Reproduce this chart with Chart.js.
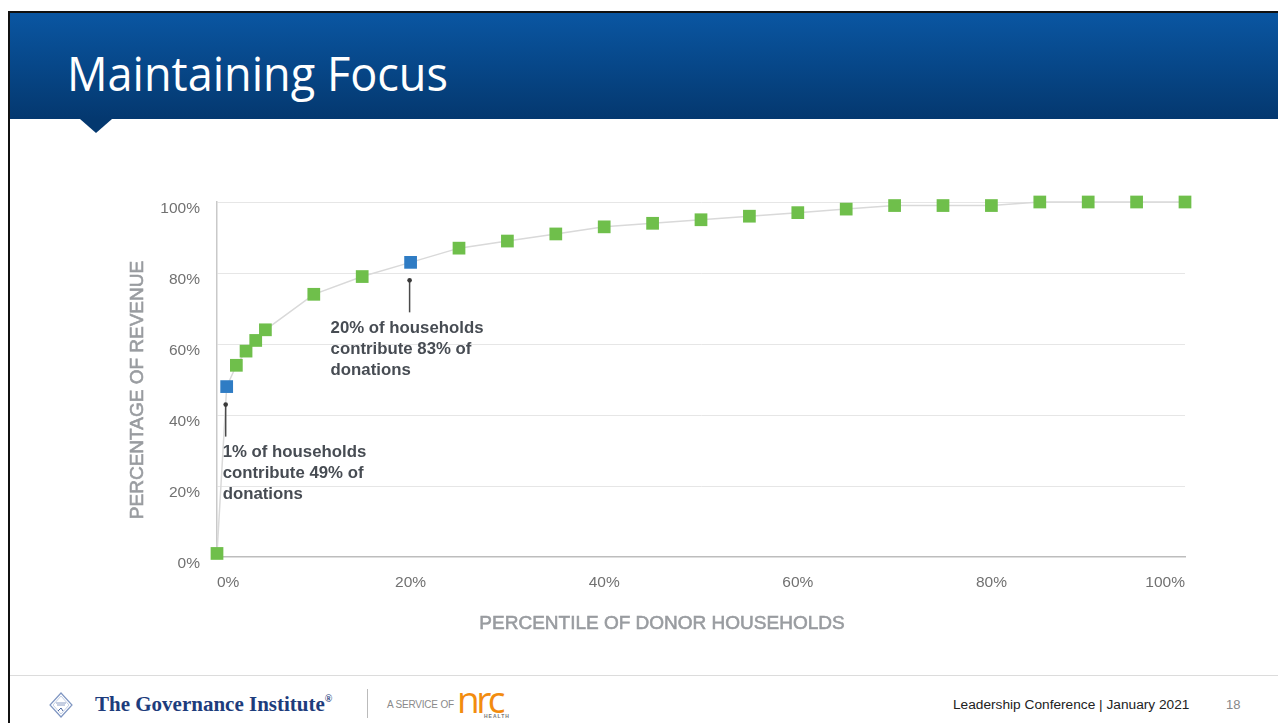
<!DOCTYPE html>
<html><head><meta charset="utf-8">
<script src="https://cdn.jsdelivr.net/npm/chart.js@4.4.0/dist/chart.umd.min.js"></script>
<style>
html,body{margin:0;padding:0;background:#fff;}
body{width:1278px;height:723px;position:relative;overflow:hidden;font-family:'Liberation Sans',Arial,sans-serif;}
#frameTop{position:absolute;left:8px;top:11px;width:1270px;height:2px;background:#111;}
#frameLeft{position:absolute;left:8px;top:11px;width:2px;height:712px;background:#111;}
#header{position:absolute;left:10px;top:13px;width:1268px;height:106px;background:linear-gradient(#0a56a2,#04386f);}
#pointer{position:absolute;left:80px;top:119px;width:0;height:0;border-left:16px solid transparent;border-right:16px solid transparent;border-top:14px solid #04386f;}
#title{position:absolute;left:67px;top:50px;color:#fff;font-family:'Open Sans',sans-serif;font-size:47px;line-height:47px;white-space:nowrap;transform-origin:0 0;}
#chartWrap{position:absolute;left:0;top:140px;width:1278px;height:520px;}
#footLine{position:absolute;left:10px;top:675px;width:1268px;height:1px;background:#dcdcdc;}
#logo{position:absolute;left:49px;top:692px;}
#gov{position:absolute;left:95px;top:692px;font-family:'Liberation Serif','DejaVu Serif',serif;font-weight:bold;font-size:21px;color:#1d3c7c;white-space:nowrap;}
#gov sup{font-size:10px;vertical-align:top;position:relative;top:1px;}
#sep{position:absolute;left:367px;top:689px;width:1px;height:29px;background:#bbb;}
#svc{position:absolute;left:387px;top:699px;font-size:10px;color:#8a8a8a;white-space:nowrap;letter-spacing:-0.2px;}
#nrc{position:absolute;left:457px;top:677px;font-family:'Open Sans',sans-serif;font-weight:400;font-size:37px;color:#f28c0f;letter-spacing:-3.5px;white-space:nowrap;line-height:44px;}
#health{position:absolute;left:484px;top:713px;font-size:5px;color:#777;letter-spacing:1px;font-weight:bold;}
#conf{position:absolute;left:953px;top:697px;font-size:13.7px;color:#222;white-space:nowrap;}
#page{position:absolute;left:1226px;top:697px;font-size:13px;color:#888;}
</style></head>
<body>
<div id="header"></div>
<div id="frameTop"></div>
<div id="frameLeft"></div>
<div id="pointer"></div>
<div id="title"><span id="titleText">Maintaining Focus</span></div>
<div id="chartWrap"><canvas id="c" width="1278" height="520"></canvas></div>
<div id="footLine"></div>
<svg id="logo" width="24" height="26" viewBox="0 0 24 26">
  <polygon points="12,1 23,13 12,25 1,13" fill="#fff" stroke="#7f96c2" stroke-width="1.2"/>
  <polygon points="12,4 20,13 12,22 4,13" fill="none" stroke="#b5c3dd" stroke-width="0.8"/>
  <line x1="7" y1="11" x2="17" y2="11" stroke="#6f86b5" stroke-width="0.8"/>
  <line x1="8" y1="13" x2="16" y2="13" stroke="#6f86b5" stroke-width="0.8"/>
  <path d="M9 19 L12 16 L14 19" fill="none" stroke="#4a66a0" stroke-width="1"/>
</svg>
<div id="gov">The Governance Institute<sup>®</sup></div>
<div id="sep"></div>
<div id="svc">A SERVICE OF</div>
<div id="nrc">nrc</div>
<div id="health">HEALTH</div>
<div id="conf">Leadership Conference | January 2021</div>
<div id="page">18</div>
<script>
// ---- data ----
const percentiles = [0,1,2,3,4,5,10,15,20,25,30,35,40,45,50,55,60,65,70,75,80,85,90,95,100];
const revenueShare = [1,48,54,58,61,64,74,79,83,87,89,91,93,94,95,96,97,98,99,99,99,100,100,100,100];
const highlightedPercentiles = [1,20];
const xTickValues = [0,20,40,60,80,100];
const yTickValues = [0,20,40,60,80,100];
const xAxisTitle = 'PERCENTILE OF DONOR HOUSEHOLDS';
const yAxisTitle = 'PERCENTAGE OF REVENUE';
const callout1Lines = ['1% of households','contribute 49% of','donations'];
const callout2Lines = ['20% of households','contribute 83% of','donations'];

(function(){
  const t = document.getElementById('titleText');
  const w = t.getBoundingClientRect().width;
  document.getElementById('title').style.transform = 'scaleX(' + (381 / w) + ')';
})();

const GREEN = '#6fbf4b', BLUE = '#2f7cc4';
const pointColors = percentiles.map(p => highlightedPercentiles.includes(p) ? BLUE : GREEN);

const callouts = [
  {x: highlightedPercentiles[0], lines: callout1Lines, textDx: -3},
  {x: highlightedPercentiles[1], lines: callout2Lines, textDx: -79}
];

const extras = {
  id: 'extras',
  afterDatasetsDraw(chart) {
    const ctx = chart.ctx;
    const xs = chart.scales.x, ys = chart.scales.y;
    ctx.save();
    callouts.forEach(c => {
      const i = percentiles.indexOf(c.x);
      const px = xs.getPixelForValue(c.x) - 1;
      const py = ys.getPixelForValue(revenueShare[i]);
      ctx.strokeStyle = '#4a4a4a';
      ctx.lineWidth = 1.5;
      ctx.beginPath();
      ctx.moveTo(px, py + 18);
      ctx.lineTo(px, py + 50);
      ctx.stroke();
      ctx.fillStyle = '#3a3a3a';
      ctx.beginPath();
      ctx.arc(px, py + 18, 2.3, 0, Math.PI * 2);
      ctx.fill();
      ctx.fillStyle = '#474c53';
      ctx.font = 'bold 16.8px "Liberation Sans", Arial, sans-serif';
      ctx.textAlign = 'left';
      ctx.textBaseline = 'middle';
      c.lines.forEach((ln, k) => ctx.fillText(ln, px + c.textDx, py + 66 + k * 21));
    });
    ctx.fillStyle = '#999ca0';
    ctx.strokeStyle = '#999ca0';
    ctx.lineWidth = 0.6;
    ctx.font = '19px "Liberation Sans", Arial, sans-serif';
    ctx.textAlign = 'center';
    ctx.textBaseline = 'middle';
    ctx.fillText(xAxisTitle, 662, 484);
    ctx.strokeText(xAxisTitle, 662, 484);
    ctx.translate(138, 250);
    ctx.rotate(-Math.PI / 2);
    ctx.fillText(yAxisTitle, 0, 0);
    ctx.strokeText(yAxisTitle, 0, 0);
    ctx.restore();
  }
};

new Chart(document.getElementById('c'), {
  type: 'line',
  data: {
    datasets: [{
      data: percentiles.map((p, i) => ({x: p, y: revenueShare[i]})),
      borderColor: '#d9d9d9',
      borderWidth: 1.5,
      tension: 0,
      pointStyle: 'rect',
      pointRadius: 9,
      pointHoverRadius: 9,
      pointBorderWidth: 0,
      pointBackgroundColor: pointColors,
      pointBorderColor: pointColors,
      clip: false
    }]
  },
  options: {
    responsive: false,
    animation: false,
    devicePixelRatio: 1,
    layout: {padding: {left: 0, right: 93, top: 62, bottom: 0}},
    plugins: {legend: {display: false}, tooltip: {enabled: false}},
    scales: {
      x: {
        type: 'linear', min: 0, max: 100,
        afterBuildTicks: s => { s.ticks = xTickValues.map(v => ({value: v})); },
        afterFit: s => { s.height = 103; },
        grid: {display: false, drawTicks: false},
        border: {display: true, color: '#bdbdbd', width: 1.5},
        ticks: {
          align: 'inner', padding: 16, maxRotation: 0,
          color: '#717171',
          font: {family: '"Liberation Sans", Arial, sans-serif', size: 15.5},
          callback: v => v + '%'
        }
      },
      y: {
        type: 'linear', min: 0, max: 100,
        afterBuildTicks: s => { s.ticks = yTickValues.map(v => ({value: v})); },
        afterFit: s => { s.width = 217; },
        grid: {drawTicks: false, color: c => c.tick && c.tick.value === 0 ? 'rgba(0,0,0,0)' : '#e6e6e6', lineWidth: 1},
        border: {display: true, color: '#c9c9c9', width: 1.5},
        ticks: {
          padding: 17, labelOffset: 7,
          color: '#717171',
          font: {family: '"Liberation Sans", Arial, sans-serif', size: 15.5},
          callback: v => v + '%'
        }
      }
    }
  },
  plugins: [extras]
});
</script>
</body></html>
